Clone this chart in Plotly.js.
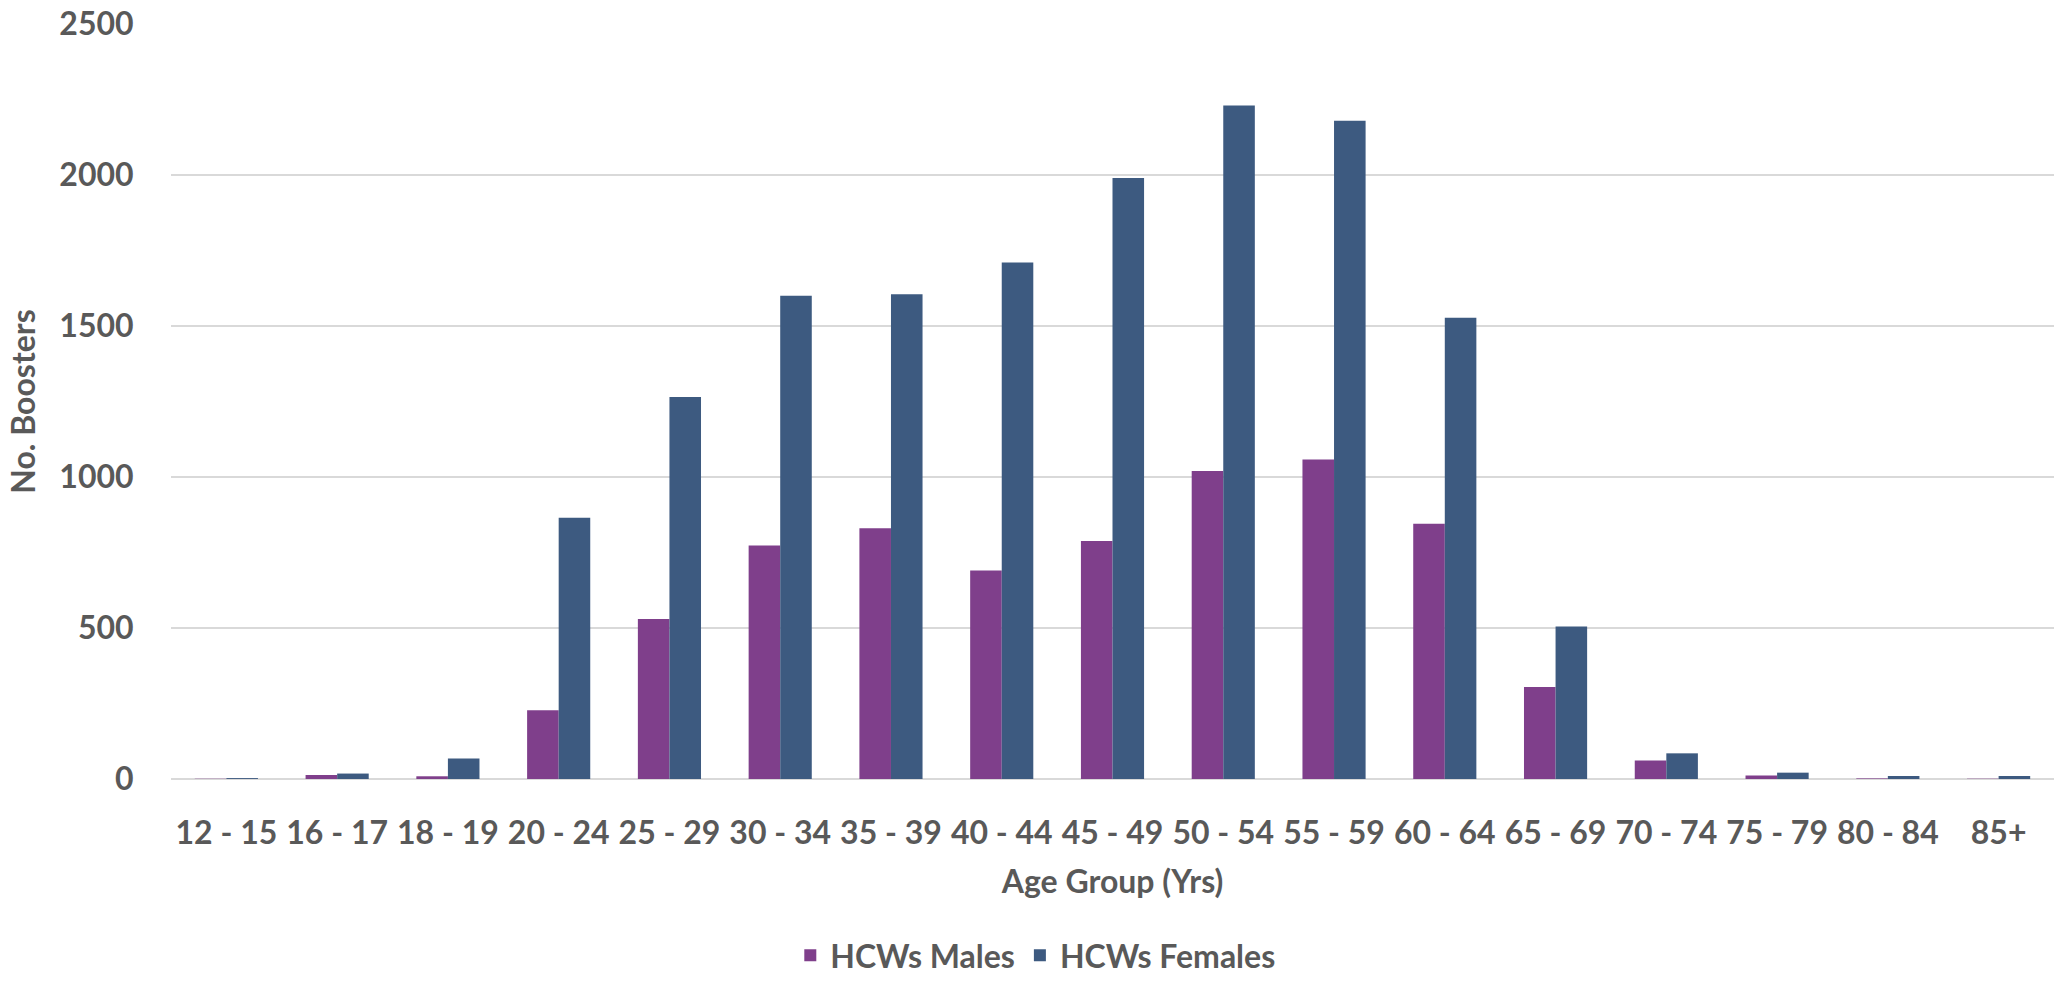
<!DOCTYPE html>
<html>
<head>
<meta charset="utf-8">
<script src="https://cdn.plot.ly/plotly-3.0.1.min.js"></script>
<style>html,body{margin:0;padding:0;background:#fff;}#chart{width:2054px;height:981px;}</style>
</head>
<body>
<div id="chart"></div>
<script>
const ageGroups = ["12 - 15","16 - 17","18 - 19","20 - 24","25 - 29","30 - 34","35 - 39","40 - 44","45 - 49","50 - 54","55 - 59","60 - 64","65 - 69","70 - 74","75 - 79","80 - 84","85+"];
const males = [1, 13, 9, 228, 530, 773, 830, 690, 788, 1020, 1058, 845, 305, 61, 12, 2, 1];
const females = [3, 18, 68, 865, 1265, 1600, 1605, 1710, 1990, 2230, 2180, 1527, 505, 85, 21, 10, 10];
const seriesNames = ["HCWs Males", "HCWs Females"];
const yTicks = [0, 500, 1000, 1500, 2000, 2500];

const FONT = "Lato, Carlito, 'Liberation Sans Narrow', sans-serif";
const TXT = "#595959";
const FS = 32;

const traces = [
  {type:'bar', name: seriesNames[0], x: ageGroups, y: males, marker:{color:'#7F3F8B'}},
  {type:'bar', name: seriesNames[1], x: ageGroups, y: females, marker:{color:'#3D5A80'}}
];

const layout = {
  width: 2054, height: 981,
  margin: {l:171, r:0, t:24, b:202},
  paper_bgcolor:'#fff', plot_bgcolor:'#fff',
  font: {family: FONT, color: TXT, size: FS, weight: 'bold'},
  barmode:'group', bargap: 0.43, bargroupgap: 0,
  showlegend: true,
  legend: {orientation:'h', x:0.459, xanchor:'center', yref:'container', y:0.026, yanchor:'middle',
           font:{family:FONT, size:FS, color:TXT, weight:'bold'}, itemwidth:30, traceorder:'normal'},
  xaxis: {
    type:'category', showgrid:false, zeroline:false, showline:false, automargin:false,
    ticks:'outside', ticklen: 26, tickcolor:'rgba(0,0,0,0)',
    tickfont:{family:FONT, size:FS, color:TXT, weight:'bold'},
    title:{text:'Age Group (Yrs)', standoff: 20, font:{family:FONT, size:FS, color:TXT, weight:'bold'}}
  },
  yaxis: {
    range:[0,2500], tickvals: yTicks, showgrid:true, gridcolor:'#D9D9D9', gridwidth:2,
    zeroline:true, zerolinecolor:'#D9D9D9', zerolinewidth:2, showline:false, automargin:false,
    ticks:'outside', ticklen: 30, tickcolor:'rgba(0,0,0,0)',
    tickfont:{family:FONT, size:FS, color:TXT, weight:'bold'},
    title:{text:'No. Boosters', standoff: 14, font:{family:FONT, size:FS, color:TXT, weight:'bold'}}
  }
};

Plotly.newPlot('chart', traces, layout, {displayModeBar:false, staticPlot:true});
</script>
</body>
</html>
